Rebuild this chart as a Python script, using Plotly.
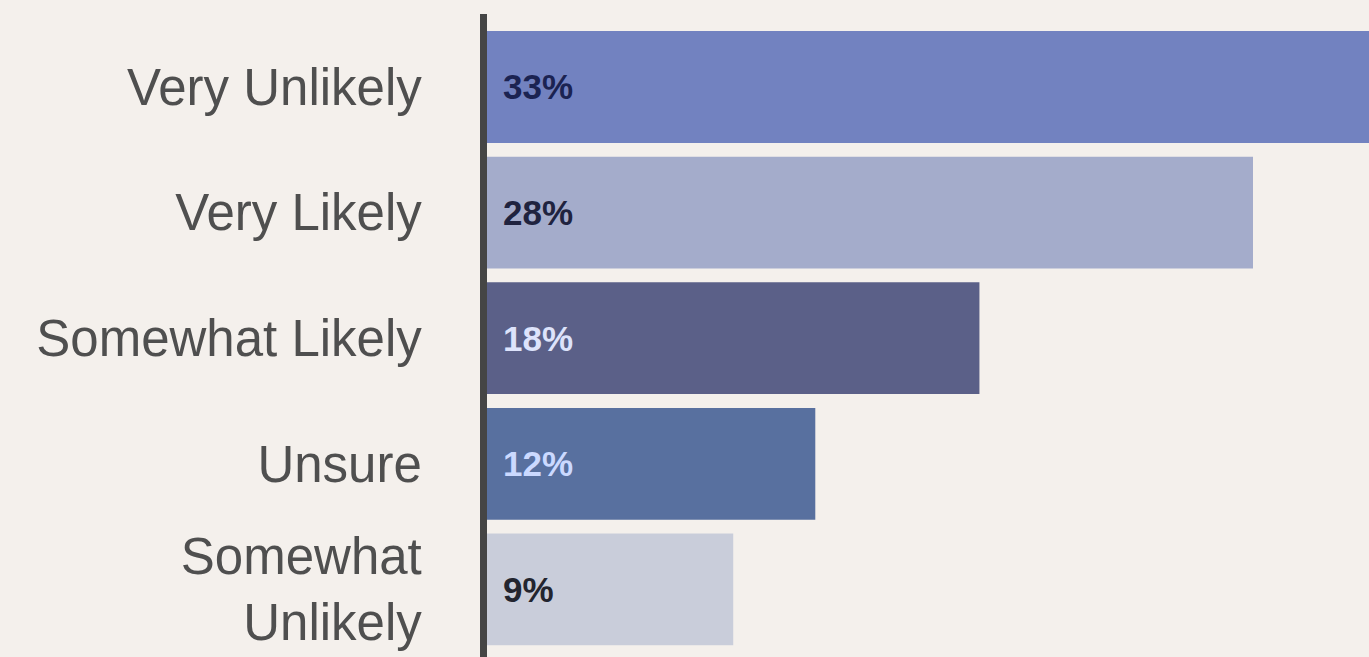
import plotly.graph_objects as go

categories = ["Very Unlikely", "Very Likely", "Somewhat Likely", "Unsure", "Somewhat<br>Unlikely"]
values = [33, 28, 18, 12, 9]
bar_colors = ["#7282c0", "#a4accb", "#5b6088", "#58709f", "#c9cdda"]
label_colors = ["#1b2352", "#20233f", "#dde3fb", "#cbd9ff", "#23252f"]
labels = [f"{v}%" for v in values]

fig = go.Figure()
fig.add_trace(go.Bar(
    x=values, y=categories, orientation="h",
    marker=dict(color=bar_colors, line=dict(width=0)),
    hoverinfo="skip",
))

for cat, lab, col in zip(categories, labels, label_colors):
    fig.add_annotation(
        x=0, y=cat, text=lab, showarrow=False,
        xanchor="left", yanchor="middle", xshift=14,
        font=dict(family="Liberation Sans, Arial, sans-serif", size=35, color=col, weight="bold"),
    )

fig.update_layout(
    width=1369, height=657,
    margin=dict(l=487, r=0, t=14, b=0),
    paper_bgcolor="#f4f0ec", plot_bgcolor="#f4f0ec",
    bargap=0.11, showlegend=False,
    font=dict(family="Liberation Sans, Arial, sans-serif"),
)
fig.update_xaxes(range=[0, 32.24], visible=False, showgrid=False, zeroline=False)
fig.update_yaxes(
    range=[4.538, -0.581], showgrid=False, zeroline=False,
    showline=True, linecolor="#454545", linewidth=7,
    ticks="", ticklabelstandoff=48,
    tickfont=dict(size=51, color="#4f4f4f", family="Liberation Sans, Arial, sans-serif"),
)

fig.write_html("out.html")
